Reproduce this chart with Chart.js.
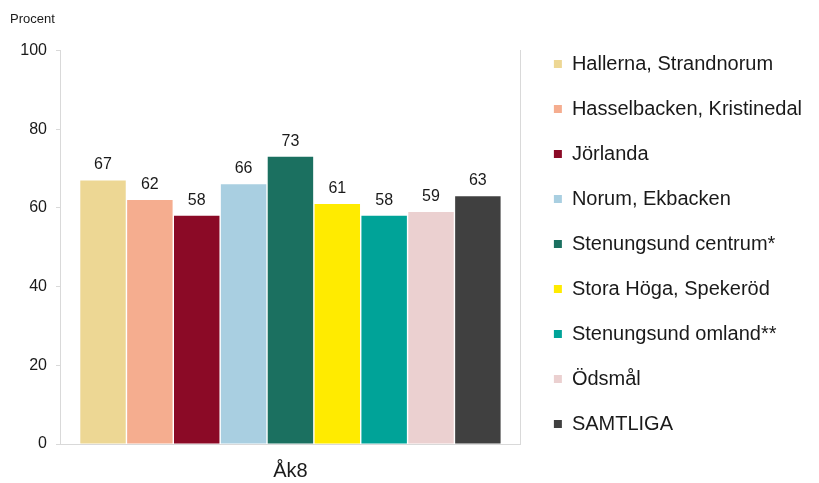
<!DOCTYPE html>
<html>
<head>
<meta charset="utf-8">
<script src="https://cdn.jsdelivr.net/npm/chart.js@4/dist/chart.umd.min.js"></script>
<style>
  html, body { margin: 0; padding: 0; background: #fff; overflow: hidden; }
  canvas { display: block; }
</style>
</head>
<body>
<canvas id="chart" width="819" height="483"></canvas>
<script>
// chart data
const categories = ['Åk8'];
const areas = [
    'Hallerna, Strandnorum',
    'Hasselbacken, Kristinedal',
    'Jörlanda',
    'Norum, Ekbacken',
    'Stenungsund centrum*',
    'Stora Höga, Spekeröd',
    'Stenungsund omland**',
    'Ödsmål',
    'SAMTLIGA'
];
const values = [67, 62, 58, 66, 73, 61, 58, 59, 63];
const colors = ['#edd794', '#f5ad8f', '#8b0a26', '#a9cfe1', '#1b7060', '#ffeb00', '#00a398', '#ebd0d0', '#404040'];
const yTicks = [0, 20, 40, 60, 80, 100];

const FONT = "'Liberation Sans', Arial, sans-serif";
const axisGray = '#d9d9d9';

// value labels above each bar
const barLabels = {
    id: 'barLabels',
    afterDatasetsDraw(chart) {
        const ctx = chart.ctx;
        ctx.save();
        ctx.font = '16px ' + FONT;
        ctx.fillStyle = '#1a1a1a';
        ctx.textAlign = 'center';
        ctx.textBaseline = 'alphabetic';
        chart.data.datasets.forEach((ds, i) => {
            const meta = chart.getDatasetMeta(i);
            meta.data.forEach((bar, j) => {
                ctx.fillText(String(ds.data[j]), bar.x, bar.y - 11);
            });
        });
        ctx.restore();
    }
};

new Chart(document.getElementById('chart').getContext('2d'), {
    type: 'bar',
    data: {
        labels: categories,
        datasets: areas.map((name, i) => ({
            label: name,
            data: [values[i]],
            backgroundColor: colors[i],
            borderWidth: 0,
            categoryPercentage: 0.915,
            barPercentage: 0.97
        }))
    },
    options: {
        responsive: false,
        animation: false,
        layout: { padding: { top: 5, left: 10, right: 7, bottom: 0 } },
        plugins: {
            tooltip: { enabled: false },
            title: {
                display: true,
                text: 'Procent',
                align: 'start',
                color: '#1a1a1a',
                font: { family: FONT, size: 13, weight: 'normal' },
                padding: { top: 7, bottom: 23 }
            },
            legend: {
                position: 'right',
                align: 'center',
                maxWidth: 320,
                labels: {
                    color: '#1a1a1a',
                    boxWidth: 8,
                    boxHeight: 8,
                    padding: 25,
                    font: { family: FONT, size: 20 }
                }
            }
        },
        scales: {
            x: {
                afterFit: (s) => { s.height = 39; },
                grid: { display: false },
                border: { color: axisGray, width: 1 },
                ticks: { color: '#1a1a1a', padding: 7, font: { family: FONT, size: 20 } }
            },
            y: {
                min: 0,
                max: 100,
                afterBuildTicks: (s) => { s.ticks = yTicks.map(v => ({ value: v })); },
                afterFit: (s) => { s.width = 50; },
                grid: { drawOnChartArea: false, drawTicks: true, tickLength: 4, color: axisGray },
                border: { color: axisGray, width: 1 },
                ticks: { color: '#1a1a1a', padding: 9, font: { family: FONT, size: 16 } }
            },
            y2: {
                position: 'right',
                min: 0,
                max: 100,
                afterFit: (s) => { s.width = 8; },
                grid: { display: false },
                border: { color: axisGray, width: 1 },
                ticks: { display: false }
            }
        }
    },
    plugins: [barLabels]
});
</script>
</body>
</html>
